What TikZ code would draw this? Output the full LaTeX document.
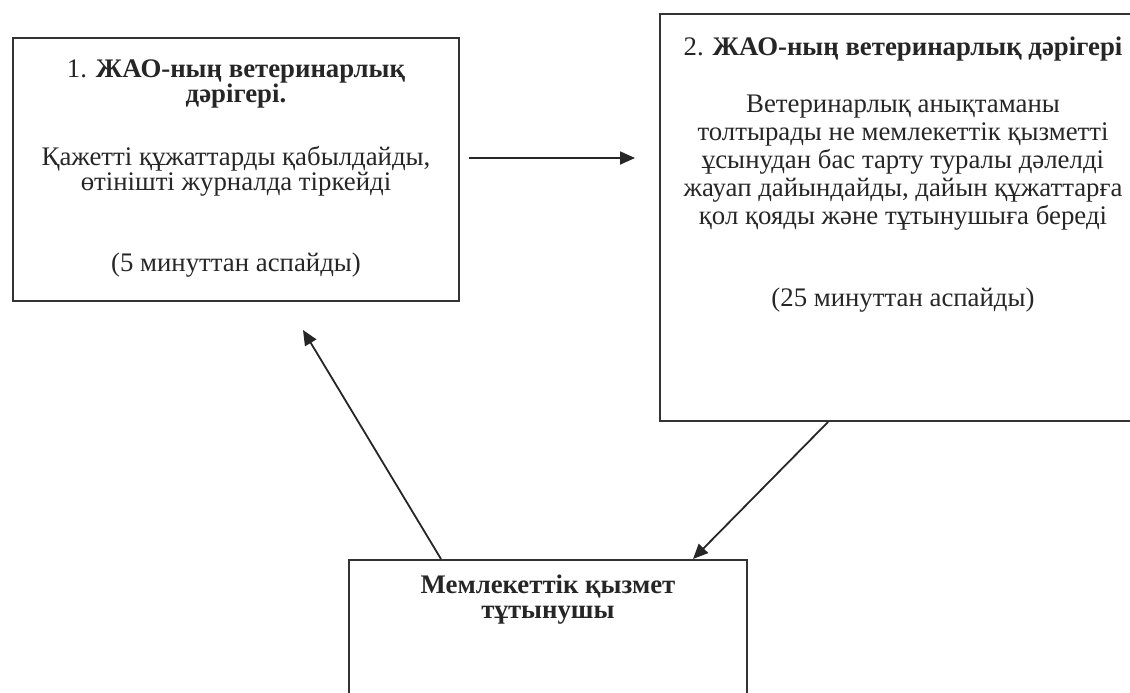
\documentclass[tikz,border=0pt]{standalone}
\usepackage{fontspec}
\setmainfont{Liberation Serif}
\usetikzlibrary{arrows.meta, positioning}

\begin{document}
\begin{tikzpicture}[
        x=0.5pt, y=-0.5pt,
        every node/.style={font=\fontsize{13.4}{12.5}\selectfont, text=black!85},
        box/.style={draw=black!80, line width=1pt, anchor=north west, inner sep=0pt},
        arr/.style={-{Triangle[length=7.5pt, width=6.5pt]}, draw=black!85, line width=0.9pt},
    ]

    \useasboundingbox (0,0) rectangle (1130,692);

    %% Step 1
    \node[box] (vet1) at (12,37) {\parbox[c][131.5pt][t]{223pt}{\centering
        \vspace*{11pt}
        1. \textbf{ЖАО-ның ветеринарлық}\\
        \textbf{дәрігері.}\\[19pt]
        Қажетті құжаттарды қабылдайды,\\
        өтінішті журналда тіркейді\\[28pt]
        (5 минуттан аспайды)}};

    %% Step 2
    \node[box] (vet2) at (659,13) {\parbox[c][203.5pt][t]{243pt}{\centering\fontsize{13.4}{14}\selectfont
        \vspace*{11.5pt}
        2. \textbf{ЖАО-ның ветеринарлық дәрігері}\\[14.5pt]
        Ветеринарлық анықтаманы\\
        толтырады не мемлекеттік қызметті\\
        ұсынудан бас тарту туралы дәлелді\\
        жауап дайындайды, дайын құжаттарға\\
        қол қояды және тұтынушыға береді\\[27pt]
        (25 минуттан аспайды)}};

    %% Consumer
    \node[box] (cons) at (348,559) {\parbox[c][75pt][t]{199pt}{\centering\fontsize{13.4}{12.5}\selectfont
        \vspace*{7.5pt}
        \textbf{Мемлекеттік қызмет}\\
        \textbf{тұтынушы}}};

    %% Arrows
    \draw[arr] ([xshift=4.5pt, yshift=5.75pt]vet1.east) -- ([xshift=-12pt, yshift=5.75pt]vet1.east -| vet2.west);
    \draw[arr] ([xshift=-37.5pt]vet2.south) -- ([xshift=72.5pt]cons.north);
    \draw[arr] ([xshift=-53.5pt]cons.north) -- ([xshift=33.5pt, yshift=-14pt]vet1.south);

\end{tikzpicture}
\end{document}
